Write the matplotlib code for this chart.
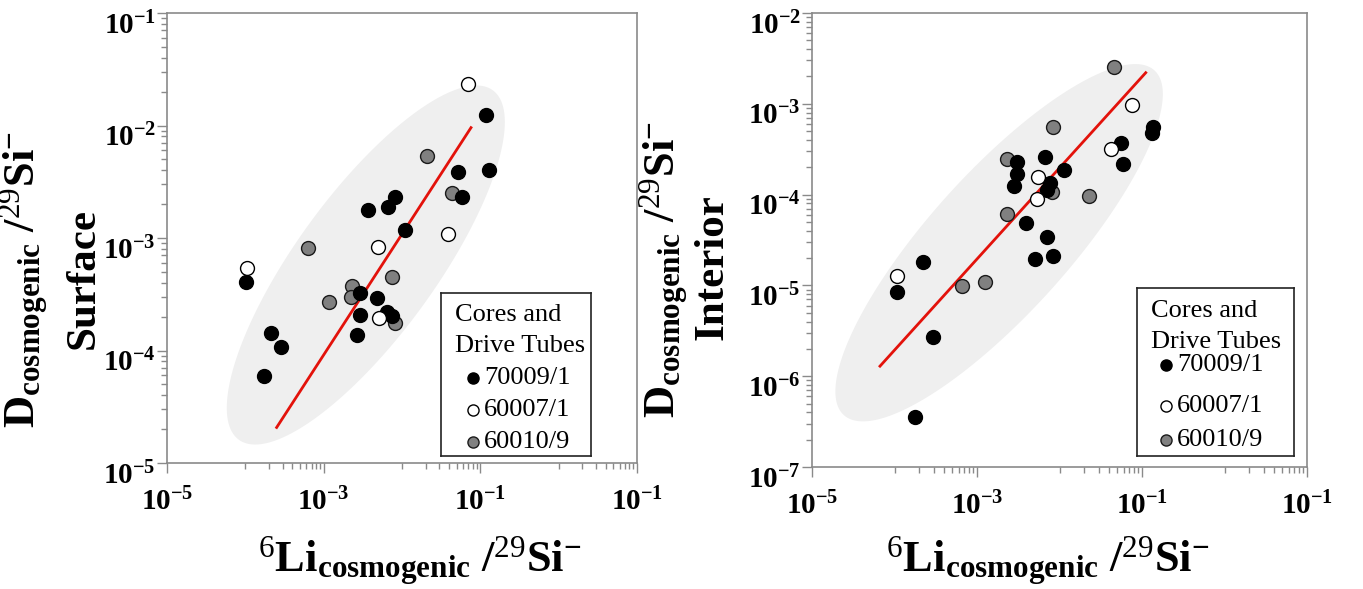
import numpy as np
import matplotlib
matplotlib.use("Agg")
import matplotlib.pyplot as plt
from matplotlib.patches import Polygon
from matplotlib.ticker import NullFormatter, LogLocator
from matplotlib.transforms import ScaledTranslation

plt.rcParams['font.family'] = ['Liberation Serif', 'DejaVu Serif']
plt.rcParams['mathtext.fontset'] = 'custom'
plt.rcParams['mathtext.rm'] = 'Liberation Serif'
plt.rcParams['mathtext.bf'] = 'Liberation Serif:bold'
plt.rcParams['mathtext.it'] = 'Liberation Serif:italic'
plt.rcParams['mathtext.default'] = 'bf'

# ---- Surface (left panel) ----
surf_70009_x = [0.118, 0.130, 0.0524, 0.0578, 0.00815, 0.00656, 0.00372, 0.0109,
                1.01e-4, 0.00291, 0.00475, 0.00291, 0.00637, 0.00738, 0.00269,
                2.11e-4, 2.82e-4, 1.73e-4]
surf_70009_y = [0.0124, 0.00402, 0.00384, 0.00233, 0.00230, 0.00188, 0.00177, 0.00118,
                4.09e-4, 3.27e-4, 2.91e-4, 2.07e-4, 2.21e-4, 2.03e-4, 1.37e-4,
                1.42e-4, 1.08e-4, 5.93e-5]
surf_60007_x = [0.0703, 1.04e-4, 0.00499, 0.0390, 0.00514]
surf_60007_y = [0.0234, 5.37e-4, 8.38e-4, 0.00108, 1.93e-4]
surf_60010_x = [6.37e-4, 0.0210, 0.0440, 0.00752, 0.00228, 0.00223, 0.00118, 0.00815]
surf_60010_y = [8.09e-4, 0.00540, 0.00249, 4.47e-4, 3.77e-4, 2.97e-4, 2.72e-4, 1.74e-4]
surf_fit_x = [2.51e-4, 0.0760]
surf_fit_y = [2.07e-5, 0.00957]

# ---- Interior (right panel) ----
int_70009_x = [0.135, 0.131, 0.0556, 0.0593, 0.00667, 0.00308, 0.00308, 0.00283,
               0.0114, 0.00767, 0.00700, 0.00389, 0.00700, 0.00505, 0.00841,
               2.23e-4, 1.06e-4, 2.90e-4, 1.77e-4]
int_70009_y = [5.51e-4, 4.73e-4, 3.73e-4, 2.17e-4, 2.62e-4, 2.26e-4, 1.69e-4, 1.24e-4,
               1.87e-4, 1.35e-4, 1.12e-4, 4.91e-5, 3.44e-5, 1.94e-5, 2.11e-5,
               1.82e-5, 8.53e-6, 2.72e-6, 3.52e-7]
int_60007_x = [0.0764, 0.0417, 0.00553, 0.00538, 1.06e-4]
int_60007_y = [9.70e-4, 3.18e-4, 1.57e-4, 8.87e-5, 1.27e-5]
int_60010_x = [0.0458, 0.00841, 0.00233, 0.00804, 0.0228, 0.00233, 6.64e-4, 0.00125]
int_60010_y = [0.00252, 5.51e-4, 2.45e-4, 1.06e-4, 9.66e-5, 6.07e-5, 9.93e-6, 1.10e-5]
int_fit_x = [6.67e-5, 0.111]
int_fit_y = [1.29e-6, 0.00220]

series_names = ['70009/1', '60007/1', '60010/9']
x_major = [1e-5, 1e-3, 1e-1, 1e1]
x_major_labels = [r'$10^{-5}$', r'$10^{-3}$', r'$10^{-1}$', r'$10^{-1}$']

FW, FH = 1363, 589
fig = plt.figure(figsize=(FW / 100, FH / 100), dpi=100)


def box(l, t, r, b):
    # pixel box (from top-left) -> figure fraction rect
    return [l / FW, 1 - b / FH, (r - l) / FW, (b - t) / FH]


ax1 = fig.add_axes(box(167, 13, 637, 463))
ax2 = fig.add_axes(box(812, 13, 1307, 467))

styles = [dict(mfc='black', mec='black'),
          dict(mfc='white', mec='black'),
          dict(mfc='#808080', mec='#1a1a1a')]


def draw_ellipse(ax, cx, cy, a, b, ang):
    bb = ax.get_position()
    W = bb.width * FW
    H = bb.height * FH
    t = np.linspace(0, 2 * np.pi, 300)
    th = np.radians(ang)
    dx = a * np.cos(t) * np.cos(th) - b * np.sin(t) * np.sin(th)
    dy = a * np.cos(t) * np.sin(th) + b * np.sin(t) * np.cos(th)
    pts = np.column_stack([cx + dx / W, cy + dy / H])
    ax.add_patch(Polygon(pts, closed=True, transform=ax.transAxes,
                         facecolor='#efefef', edgecolor='none', zorder=0))


def panel(ax, ylim, yticks, xs, ys, fitx, fity):
    ax.set_xscale('log')
    ax.set_yscale('log')
    ax.set_xlim(1e-5, 1e1)
    ax.set_ylim(*ylim)
    # grey drawn first, then black, then open
    for i in (2, 0, 1):
        ax.plot(xs[i], ys[i], 'o', ms=10, mew=1.0, zorder=3, **styles[i])
    ax.plot(fitx, fity, color='#e3120b', lw=2, zorder=2)

    ax.set_xticks(x_major)
    ax.set_xticklabels(x_major_labels)
    minor = [k * 10.0 ** e for e in (-4, -2, 0) for k in range(1, 10)]
    ax.set_xticks(minor, minor=True)
    ax.xaxis.set_minor_formatter(NullFormatter())

    ax.set_yticks(yticks)
    ax.set_yticklabels([r'$10^{%d}$' % int(round(np.log10(v))) for v in yticks])
    ax.yaxis.set_minor_locator(LogLocator(base=10, subs=np.arange(2, 10)))
    ax.yaxis.set_minor_formatter(NullFormatter())

    for s in ax.spines.values():
        s.set_color('#8a8a8a')
        s.set_linewidth(1.2)
    ax.tick_params(which='both', direction='out', color='#8a8a8a', width=1,
                   labelsize=21, top=False, right=False)
    ax.tick_params(which='major', length=7.5)
    ax.tick_params(which='minor', length=4.5)
    ax.tick_params(axis='x', pad=10)
    ax.tick_params(axis='y', pad=0.5)
    off = ScaledTranslation(0, -7 / 72, fig.dpi_scale_trans)
    for lab in ax.get_yticklabels():
        lab.set_transform(lab.get_transform() + off)


panel(ax1, (1e-5, 1e-1), [1e-5, 1e-4, 1e-3, 1e-2, 1e-1],
      [surf_70009_x, surf_60007_x, surf_60010_x],
      [surf_70009_y, surf_60007_y, surf_60010_y], surf_fit_x, surf_fit_y)
panel(ax2, (1e-7, 1e-2), [1e-7, 1e-6, 1e-5, 1e-4, 1e-3, 1e-2],
      [int_70009_x, int_60007_x, int_60010_x],
      [int_70009_y, int_60007_y, int_60010_y], int_fit_x, int_fit_y)

draw_ellipse(ax1, 0.423, 0.440, 216, 70, 54)
draw_ellipse(ax2, 0.378, 0.494, 232, 70, 48)

# axis titles
ylab1 = r'$\mathbf{D}_{\mathbf{cosmogenic}}\ /^{\mathrm{29}}\mathbf{Si}^{-}$'
xlab = r'$^{\mathrm{6}}\mathbf{Li}_{\mathbf{cosmogenic}}\ /^{\mathrm{29}}\mathbf{Si}^{-}$'
fig.text(24 / FW, 1 - 280 / FH, ylab1, rotation=90, fontsize=32,
         ha='center', va='center')
fig.text(84 / FW, 1 - 279 / FH, 'Surface', rotation=90, fontsize=31,
         fontweight='bold', ha='center', va='center')
fig.text(664 / FW, 1 - 270 / FH, ylab1, rotation=90, fontsize=32,
         ha='center', va='center')
fig.text(713 / FW, 1 - 267 / FH, 'Interior', rotation=90, fontsize=31,
         fontweight='bold', ha='center', va='center')
fig.text(420 / FW, 1 - 572 / FH, xlab, fontsize=32, ha='center', va='baseline')
fig.text(1048 / FW, 1 - 572 / FH, xlab, fontsize=32, ha='center', va='baseline')


def legend_box(l, t, r, b, title_y, rows_y, mx, tx, ttx):
    lg = fig.add_axes(box(l, t, r, b))
    lg.set_xlim(0, r - l)
    lg.set_ylim(b - t, 0)
    lg.set_xticks([])
    lg.set_yticks([])
    for s in lg.spines.values():
        s.set_color('#222222')
        s.set_linewidth(1.2)
    lg.text(ttx, title_y[0], 'Cores and', fontsize=19, va='center')
    lg.text(ttx, title_y[1], 'Drive Tubes', fontsize=19, va='center')
    for i, y in enumerate(rows_y):
        lg.plot([mx], [y], 'o', ms=8, mew=1.0, **styles[i])
        lg.text(tx, y, series_names[i], fontsize=19, va='center')


legend_box(441, 293, 591, 456, (22, 53), (85, 117, 149), 32, 43, 14)
legend_box(1137, 288, 1294, 456, (23, 54), (77, 118, 152), 29, 40, 14)

fig.savefig('out.png', dpi=100)
